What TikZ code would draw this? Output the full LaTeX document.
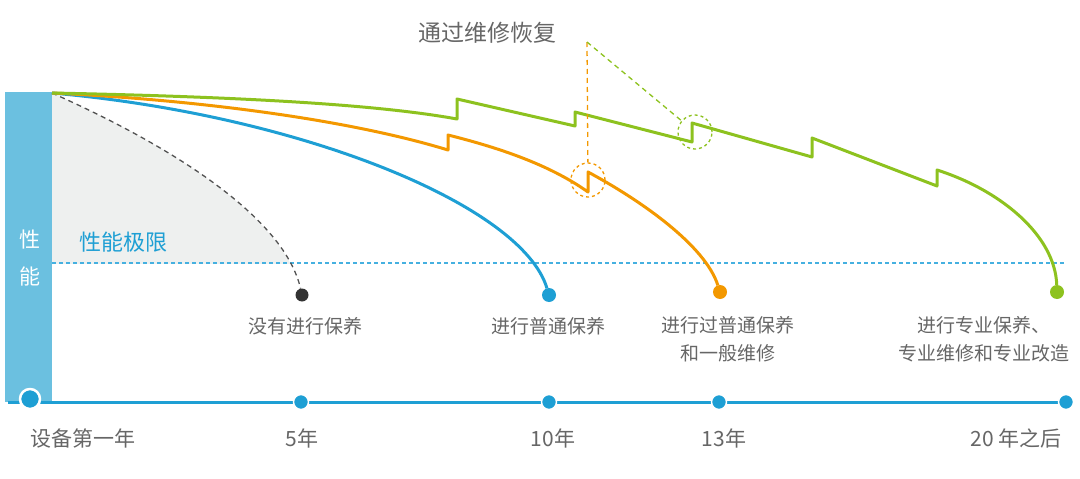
\documentclass[tikz,border=0pt]{standalone}
\usepackage{fontspec}
\setmainfont{Noto Sans CJK SC}
\definecolor{barblue}{HTML}{6BC0E0}
\definecolor{axisblue}{HTML}{1E9FD4}
\definecolor{limitblue}{HTML}{45B0E0}
\definecolor{pgreen}{HTML}{8DC21F}
\definecolor{porange}{HTML}{F39800}
\definecolor{shadegray}{HTML}{EEF0EF}
\definecolor{darkdot}{HTML}{333333}
\definecolor{txtgray}{HTML}{666666}
\begin{document}
\begin{tikzpicture}[
    x = 1pt,
    y = -1pt,
    line join=round,
    curve/.style = {line width=3pt},
    dot/.style = {circle, minimum size=14pt, inner sep=0pt, outer sep=0pt},
    tick/.style = {circle, fill=axisblue, draw=white, line width=1.5pt,
              minimum size=15pt, inner sep=0pt, outer sep=0pt},
    txt/.style = {text=txtgray, font=\fontsize{19}{28}\selectfont, align=center},
    axtxt/.style = {text=txtgray, font=\fontsize{21}{25}\selectfont},
    ]
\useasboundingbox (0,0) rectangle (1080,479);

\fill[barblue] (5,92) rectangle (52,402);
\node[text=white, font=\fontsize{21}{24}\selectfont] (bar_1) at (30,240) {性};
\node[text=white, font=\fontsize{21}{24}\selectfont] (bar_2) at (30,276) {能};

\coordinate (origin) at (52,93);
\coordinate (limit_l) at (52,263);
\coordinate (limit_r) at (1065,263);

\begin{scope}
\clip (52,0) rectangle (1080,263);
\fill[shadegray] (origin) .. controls (180,150) and (285,220) .. (302,293) -- (52,293) -- cycle;
\end{scope}

\draw[limitblue, line width=1.2pt, dash pattern=on 4pt off 3pt] (limit_l) -- (limit_r);
\node[text=axisblue, font=\fontsize{22}{25}\selectfont] (limit_txt) at (123,242) {性能极限};

\node[dot, fill=darkdot, minimum size=13pt] (dot_none) at (302,295) {};
\node[dot, fill=axisblue] (dot_basic) at (549,295) {};
\node[dot, fill=porange] (dot_general) at (720,292) {};
\node[dot, fill=pgreen] (dot_pro) at (1057,292) {};

\draw[darkdot!85, line width=1.3pt, dash pattern=on 5pt off 4pt] (origin) .. controls (180,150) and (285,220) .. (dot_none);
\draw[curve, axisblue] (origin) .. controls (300,115) and (522,205) .. (dot_basic);

\coordinate (or_1b) at (448,150);
\coordinate (or_1t) at (448,135);
\coordinate (or_2b) at (588,192);
\coordinate (or_2t) at (588,172);
\draw[curve, porange] (origin) .. controls (200,100) and (350,120) .. (or_1b) -- (or_1t)
    .. controls (500,148) and (550,165) .. (or_2b) -- (or_2t)
    .. controls (640,200) and (705,245) .. (dot_general);

\coordinate (gr_1b) at (457,119);
\coordinate (gr_1t) at (457,99);
\coordinate (gr_2b) at (575,126);
\coordinate (gr_2t) at (575,112);
\coordinate (gr_3b) at (692,142);
\coordinate (gr_3t) at (692,123);
\coordinate (gr_4b) at (812,157);
\coordinate (gr_4t) at (812,138);
\coordinate (gr_5b) at (937,186);
\coordinate (gr_5t) at (937,170);
\draw[curve, pgreen] (origin) .. controls (250,97) and (380,105) .. (gr_1b) -- (gr_1t)
    -- (gr_2b) -- (gr_2t) -- (gr_3b) -- (gr_3t) -- (gr_4b) -- (gr_4t)
    -- (gr_5b) -- (gr_5t) .. controls (1000,190) and (1055,235) .. (dot_pro);

\node[draw=porange, dashed, line width=1.3pt, circle, minimum size=34pt] (ring_or) at (588,180) {};
\node[draw=pgreen, dashed, line width=1.3pt, circle, minimum size=34pt] (ring_gr) at (695,132) {};
\coordinate (tip) at (587,42);
\draw[porange, line width=1.3pt, dash pattern=on 5pt off 4pt] (tip) -- (ring_or);
\draw[pgreen, line width=1.3pt, dash pattern=on 5pt off 4pt] (tip) -- (ring_gr);
\node[text=txtgray, font=\fontsize{23}{27}\selectfont] (repair) at (487,33) {通过维修恢复};

\node[txt] (txt_none) at (305,326) {没有进行保养};
\node[txt] (txt_basic) at (548,326) {进行普通保养};
\node[txt, anchor=north] (txt_general) at (728,313) {进行过普通保养\\和一般维修};
\node[txt, anchor=north] (txt_pro) at (984,313) {进行专业保养、\\专业维修和专业改造};

\coordinate (axis_l) at (8,402);
\coordinate (axis_r) at (1068,402);
\draw[axisblue, line width=3pt] (axis_l) -- (axis_r);
\node[tick, line width=2.5pt, minimum size=20pt] (tick_0) at (30,399) {};
\node[tick] (tick_1) at (301,402) {};
\node[tick] (tick_2) at (549,402) {};
\node[tick] (tick_3) at (719,402) {};
\node[tick] (tick_4) at (1066,402) {};

\node[axtxt] (year_0) at (83,438) {设备第一年};
\node[axtxt] (year_1) at (302,438) {5年};
\node[axtxt] (year_2) at (553,438) {10年};
\node[axtxt] (year_3) at (724,438) {13年};
\node[axtxt] (year_4) at (1016,438) {20 年之后};

\end{tikzpicture}
\end{document}
